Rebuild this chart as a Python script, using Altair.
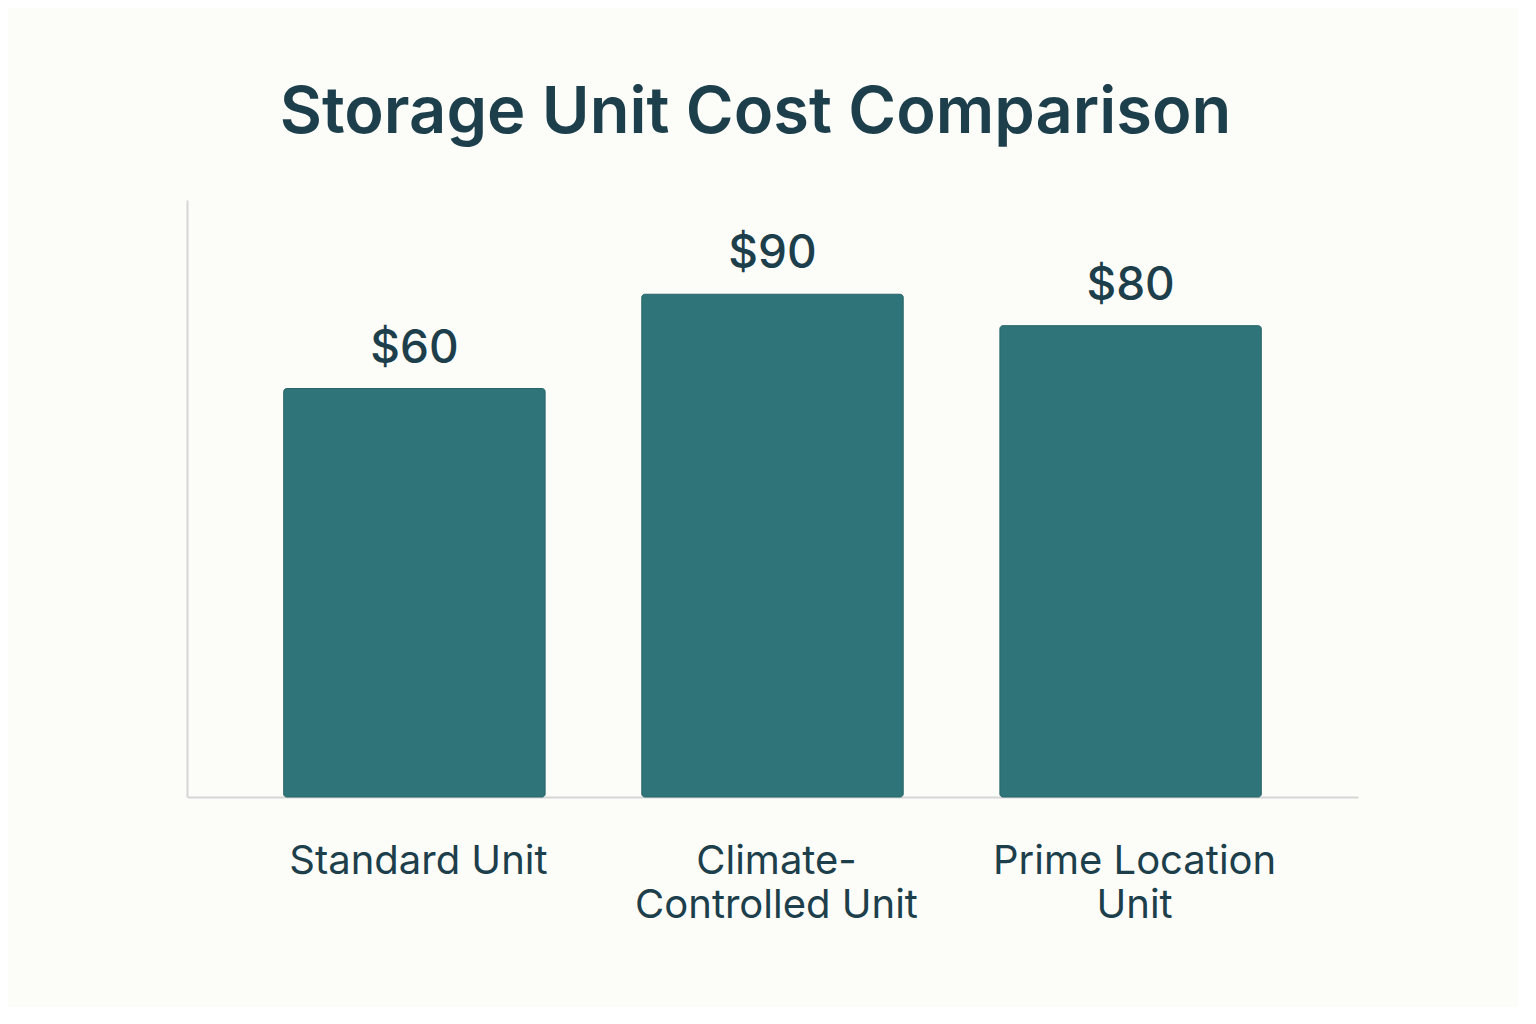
import altair as alt
import pandas as pd

categories = ["Standard Unit", "Climate-\nControlled Unit", "Prime Location\nUnit"]
costs = [60, 90, 80]
cost_labels = ["$60", "$90", "$80"]

df = pd.DataFrame({"category": categories, "cost": costs, "label": cost_labels})

DARK = "#1d3f4b"
BAR = "#2f7478"
AXIS = "#d6d6d6"
BG = "#fcfcf8"

x = alt.X(
    "category:N",
    sort=categories,
    title=None,
    scale=alt.Scale(paddingInner=0.27, paddingOuter=0.27),
    axis=alt.Axis(
        labelExpr="split(datum.label, '\\n')",
        labelAngle=0,
        labelFont="Inter",
        labelFontSize=40,
        labelFontWeight=400,
        labelColor=DARK,
        labelBaseline="top",
        labelPadding=44,
        labelLineHeight=44,
        labelLimit=0,
        labelOffset=4,
        ticks=False,
        domainColor=AXIS,
        domainWidth=2,
        grid=False,
    ),
)
y = alt.Y(
    "cost:Q",
    title=None,
    scale=alt.Scale(domain=[-70, 120], zero=False, nice=False),
    axis=alt.Axis(labels=False, ticks=False, grid=False, domainColor=AXIS, domainWidth=2),
)

bars = alt.Chart(df).mark_bar(color=BAR, cornerRadius=3, stroke="#27666a", strokeWidth=1).encode(
    x=x, y=y, y2=alt.datum(-70)
)
text = alt.Chart(df).mark_text(
    font="Inter", fontSize=46, fontWeight=500, color=DARK, baseline="alphabetic", dy=-26
).encode(x=alt.X("category:N", sort=categories), y="cost:Q", text="label:N")

chart = (
    alt.layer(bars, text)
    .properties(
        width=1171,
        height=597,
        autosize=alt.AutoSizeParams(type="none"),
        padding={"left": 179, "top": 192, "right": 160, "bottom": 210},
        title=alt.TitleParams(
            "Storage Unit Cost Comparison",
            font="Inter",
            fontSize=65,
            fontWeight=600,
            color=DARK,
            anchor="middle",
            frame="group",
            dx=-17,
            baseline="alphabetic",
            offset=2,
        ),
    )
    .configure(background=BG)
    .configure_view(stroke=None)
)

chart.save("out.html", embed_options={"renderer": "svg", "actions": False})
